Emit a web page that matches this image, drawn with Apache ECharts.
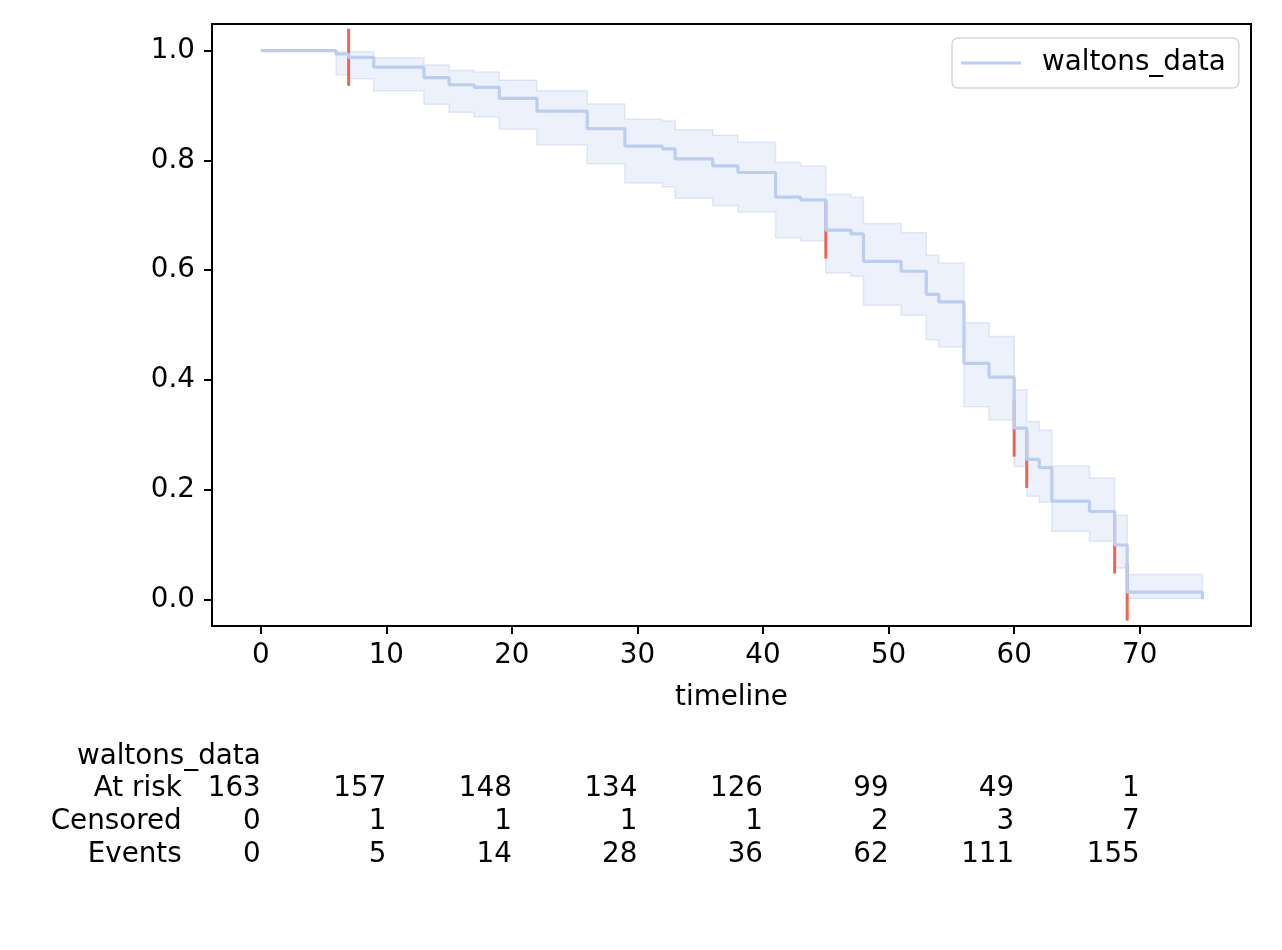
<!DOCTYPE html>
<html>
<head>
<meta charset="utf-8">
<script src="https://cdn.jsdelivr.net/npm/echarts@6/dist/echarts.min.js"></script>
<style>
html,body{margin:0;padding:0;background:#fff;}
#chart{width:1282px;height:950px;}
</style>
</head>
<body>
<div id="chart"></div>
<script>
// ---- data ----
const times     = [0, 6, 7, 9, 13, 15, 17, 19, 22, 26, 29, 32, 33, 36, 38, 41, 43, 45, 47, 48, 51, 53, 54, 56, 58, 60, 61, 62, 63, 66, 68, 69, 75];
const survival  = [1.0, 0.994, 0.988, 0.970, 0.951, 0.938, 0.933, 0.913, 0.890, 0.858, 0.826, 0.821, 0.803, 0.790, 0.778, 0.733, 0.728, 0.673, 0.666, 0.616, 0.598, 0.556, 0.542, 0.430, 0.405, 0.312, 0.255, 0.240, 0.179, 0.160, 0.099, 0.013, 0.0];
const ciUpper   = [1.0, 0.998, 0.998, 0.987, 0.974, 0.964, 0.961, 0.946, 0.927, 0.903, 0.875, 0.872, 0.856, 0.846, 0.833, 0.796, 0.790, 0.738, 0.733, 0.685, 0.668, 0.627, 0.613, 0.504, 0.479, 0.382, 0.324, 0.308, 0.243, 0.221, 0.153, 0.045, 0.045];
const ciLower   = [1.0, 0.956, 0.949, 0.927, 0.9025, 0.888, 0.879, 0.857, 0.828, 0.794, 0.759, 0.752, 0.731, 0.718, 0.706, 0.659, 0.653, 0.595, 0.589, 0.536, 0.518, 0.473, 0.460, 0.351, 0.327, 0.242, 0.188, 0.177, 0.124, 0.106, 0.057, 0.002, 0.002];
const censoredTimes = [7, 45, 60, 61, 68, 69];

const xTicks = [0, 10, 20, 30, 40, 50, 60, 70];
const yTicks = [0, 0.2, 0.4, 0.6, 0.8, 1.0];

const seriesName = 'waltons_data';
const atRisk         = [163, 157, 148, 134, 126, 99, 49, 1];
const censoredCounts = [0, 1, 1, 1, 1, 2, 3, 7];
const eventCounts    = [0, 5, 14, 28, 36, 62, 111, 155];
const rowLabels = ['At risk', 'Censored', 'Events'];

// ---- helpers ----
function survivalAt(t) {
  let v = survival[0];
  for (let i = 0; i < times.length; i++) { if (times[i] <= t) v = survival[i]; }
  return v;
}

const FONT = 'DejaVu Sans';
const FS = 27.78;
const LINE_COLOR = '#bccdef';
const LH = 32.8;

const lineData   = times.map((t, i) => [t, survival[i]]);
const bandData   = times.map((t, i) => [t, ciLower[i], ciUpper[i]]);
const censorData = censoredTimes.map(t => [t, survivalAt(t)]);

const chart = echarts.init(document.getElementById('chart'), null, {renderer: 'canvas'});

function renderBand(params, api) {
  if (params.dataIndex !== 0) return null;
  const n = times.length;
  const pts = [];
  for (let i = 0; i < n; i++) {
    pts.push(api.coord([times[i], ciUpper[i]]));
    if (i < n - 1) pts.push(api.coord([times[i + 1], ciUpper[i]]));
  }
  for (let i = n - 1; i >= 0; i--) {
    if (i < n - 1) pts.push(api.coord([times[i + 1], ciLower[i]]));
    pts.push(api.coord([times[i], ciLower[i]]));
  }
  return {
    type: 'polygon',
    shape: {points: pts},
    style: {fill: 'rgba(188,205,239,0.28)', stroke: 'rgba(188,205,239,0.42)', lineWidth: 1.5}
  };
}

const option = {
  backgroundColor: '#ffffff',
  animation: false,
  textStyle: {fontFamily: FONT},
  grid: {
    left: 212, right: 31, top: 24, bottom: 324,
    show: true, borderColor: '#000', borderWidth: 2, backgroundColor: 'transparent'
  },
  legend: {
    show: true,
    data: [{name: seriesName, icon: 'rect'}],
    left: 952, top: 38,
    itemWidth: 60, itemHeight: 3,
    padding: [11, 13, 11, 9],
    borderColor: '#d8d8d8', borderWidth: 1.5, borderRadius: 6,
    backgroundColor: '#ffffff',
    textStyle: {fontFamily: FONT, fontSize: FS, color: '#000', padding: [0, 0, 0, 16]}
  },
  xAxis: [
    {
      type: 'value', min: -3.88, max: 78.86,
      name: 'timeline', nameLocation: 'middle', nameGap: 58,
      nameTextStyle: {fontFamily: FONT, fontSize: FS, color: '#000'},
      axisLine: {show: true, onZero: false, lineStyle: {color: '#000', width: 2}},
      axisTick: {show: true, inside: false, length: 8, lineStyle: {color: '#000', width: 2}, customValues: xTicks},
      axisLabel: {show: true, margin: 16, fontFamily: FONT, fontSize: FS, color: '#000', customValues: xTicks,
                  formatter: v => String(v)},
      splitLine: {show: false}
    },
    {
      type: 'value', min: -3.88, max: 78.86, position: 'bottom', offset: 105,
      axisLine: {show: false}, axisTick: {show: false}, splitLine: {show: false},
      axisLabel: {
        show: true, margin: 9, align: 'right', verticalAlign: 'top',
        customValues: xTicks,
        formatter: function (v) {
          const i = xTicks.indexOf(v);
          if (i < 0) return '';
          const counts = [atRisk[i], censoredCounts[i], eventCounts[i]];
          if (i === 0) {
            return '{head|' + seriesName + '}\n' +
              rowLabels.map((r, k) => '{lab|' + r + '}{num|' + counts[k] + '}').join('\n');
          }
          return '{num| }\n' + counts.map(c => '{num|' + c + '}').join('\n');
        },
        rich: {
          head: {fontFamily: FONT, fontSize: FS, color: '#000', width: 251, align: 'right', lineHeight: LH},
          lab:  {fontFamily: FONT, fontSize: FS, color: '#000', width: 172, align: 'right', lineHeight: LH},
          num:  {fontFamily: FONT, fontSize: FS, color: '#000', width: 79,  align: 'right', lineHeight: LH}
        }
      }
    }
  ],
  yAxis: {
    type: 'value', min: -0.0487, max: 1.0487,
    axisLine: {show: true, onZero: false, lineStyle: {color: '#000', width: 2}},
    axisTick: {show: true, inside: false, length: 8, lineStyle: {color: '#000', width: 2}, customValues: yTicks},
    axisLabel: {show: true, margin: 17, fontFamily: FONT, fontSize: FS, color: '#000', customValues: yTicks,
                formatter: v => v.toFixed(1)},
    splitLine: {show: false}
  },
  series: [
    {
      name: 'ci_band', type: 'custom', coordinateSystem: 'cartesian2d',
      xAxisIndex: 0, yAxisIndex: 0,
      data: bandData, encode: {x: 0, y: [1, 2]},
      renderItem: renderBand, silent: true, z: 2
    },
    {
      name: 'censored', type: 'scatter', data: censorData,
      xAxisIndex: 0, yAxisIndex: 0,
      symbol: 'rect', symbolSize: [3, 57],
      itemStyle: {color: '#e8432d'},
      silent: true, z: 3
    },
    {
      name: seriesName, type: 'line', step: 'end',
      data: lineData, xAxisIndex: 0, yAxisIndex: 0,
      showSymbol: false, symbol: 'none',
      lineStyle: {color: LINE_COLOR, width: 3.2},
      itemStyle: {color: LINE_COLOR},
      z: 4
    }
  ]
};
chart.setOption(option);
</script>
</body>
</html>
